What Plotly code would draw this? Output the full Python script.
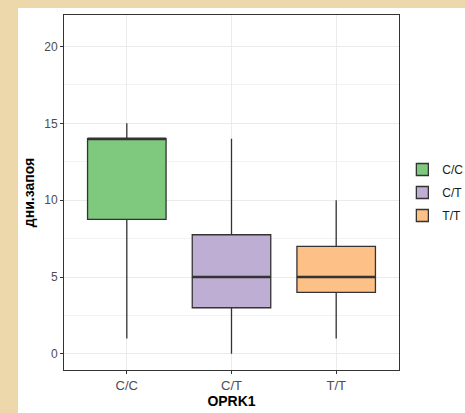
import plotly.graph_objects as go

categories = ["C/C", "C/T", "T/T"]
lower = [1, 0, 1]
q1 = [8.75, 3, 4]
median = [14, 5, 5]
q3 = [14, 7.75, 7]
upper = [15, 14, 10]
colors = ["#7FC97F", "#BEAED4", "#FDC086"]
yticks = [0, 5, 10, 15, 20]

BOX_W = 0.75
LINE = "#333333"

fig = go.Figure()
for i, cat in enumerate(categories):
    fig.add_trace(go.Box(
        x=[i], q1=[q1[i]], median=[median[i]], q3=[q3[i]],
        lowerfence=[lower[i]], upperfence=[upper[i]],
        name=cat, legendgroup=cat, width=BOX_W, whiskerwidth=0,
        fillcolor=colors[i], line=dict(color=LINE, width=1.3),
        boxpoints=False, hoverinfo="skip",
    ))
for i, cat in enumerate(categories):
    fig.add_trace(go.Scatter(
        x=[i - BOX_W / 2, i + BOX_W / 2], y=[median[i], median[i]],
        mode="lines", line=dict(color=LINE, width=2.6),
        showlegend=False, hoverinfo="skip",
    ))

L, R, T, B = 64, 66, 15, 43
W, H = 465, 413
pw, ph = W - L - R, H - T - B
fig.add_shape(type="rect", xref="paper", yref="paper", layer="below",
              x0=(18 - L) / pw, x1=(W + 5 - L) / pw,
              y0=-(B + 5) / ph, y1=1 + (T - 8) / ph,
              fillcolor="white", line=dict(width=0))

fig.update_layout(
    width=W, height=H,
    margin=dict(l=L, r=R, t=T, b=B, autoexpand=False),
    paper_bgcolor="#EDD8AC",
    plot_bgcolor="white",
    boxmode="overlay",
    font=dict(family="Liberation Sans, Arial, sans-serif", color="#4D4D4D", size=12),
    legend=dict(x=1.01, y=0.5, xanchor="left", yanchor="middle",
                font=dict(size=12, color="#1A1A1A"), itemwidth=30,
                tracegroupgap=4, bgcolor="rgba(0,0,0,0)"),
    xaxis=dict(
        range=[-0.6, 2.6], tickvals=list(range(len(categories))), ticktext=categories,
        showline=True, mirror=True, linecolor=LINE, linewidth=1,
        showgrid=True, gridcolor="#EBEBEB", gridwidth=1, zeroline=False,
        ticks="outside", ticklen=3, tickcolor="#333333",
        tickfont=dict(size=13, color="#4D4D4D"),
        title=dict(text="<b>OPRK1</b>", font=dict(size=14, color="#000000"), standoff=4),
        automargin=False,
    ),
    yaxis=dict(
        range=[-1.05, 22.05], tickvals=yticks,
        showline=True, mirror=True, linecolor=LINE, linewidth=1,
        showgrid=True, gridcolor="#EBEBEB", gridwidth=1, zeroline=False,
        minor=dict(dtick=2.5, tick0=0, showgrid=True, gridcolor="#F3F3F3", gridwidth=1),
        ticks="outside", ticklen=3, tickcolor="#333333",
        tickfont=dict(size=12, color="#4D4D4D"),
        title=dict(text="<b>дни.запоя</b>", font=dict(size=14, color="#000000"), standoff=6),
        automargin=False,
    ),
)

fig.write_html("out.html")
